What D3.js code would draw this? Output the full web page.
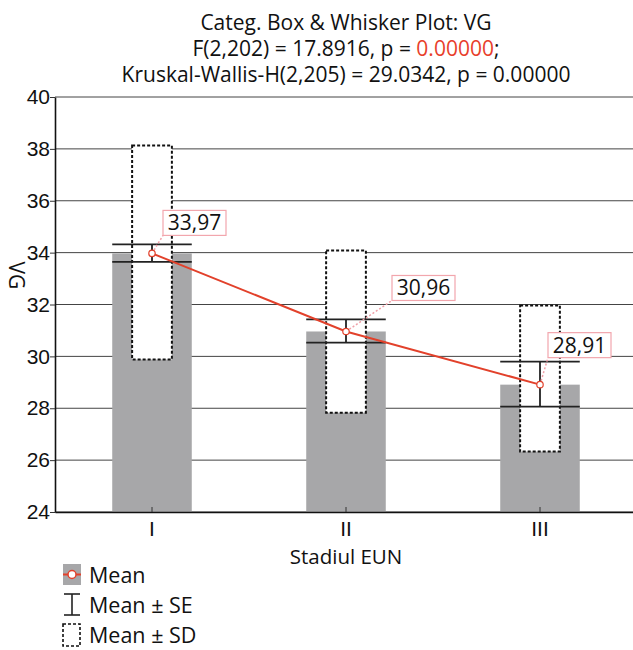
<!DOCTYPE html>
<html>
<head>
<meta charset="utf-8">
<script src="https://cdn.jsdelivr.net/npm/d3@7"></script>
<style>
  body { margin: 0; background: #fff; }
  svg { font-family: 'Open Sans', sans-serif; }
</style>
</head>
<body>
<svg></svg>
<script>
// values
const categories = ['I', 'II', 'III'];
const means = [33.97, 30.96, 28.91];
const seLow = [33.64, 30.53, 28.06];
const seHigh = [34.32, 31.43, 29.80];
const sdLow = [29.88, 27.83, 26.33];
const sdHigh = [38.13, 34.08, 31.96];
const meanLabels = ['33,97', '30,96', '28,91'];
const yTicks = [24, 26, 28, 30, 32, 34, 36, 38, 40];
const titleLines = [
  'Categ. Box & Whisker Plot: VG',
  'F(2,202) = 17.8916, p = ',
  'Kruskal-Wallis-H(2,205) = 29.0342, p = 0.00000'
];

// label placement (layout only): offset of the box's lower-left corner from the mean point
const labelOffset = [[11, -18], [46, -31], [8, -27]];

const size = {w: 633, h: 650};
const plot = {l: 55, r: 637, t: 97, b: 512};
const svg = d3.select('svg').attr('width', size.w).attr('height', size.h);

const x = d3.scaleBand()
  .domain(categories)
  .range([plot.l, plot.r])
  .paddingInner(0.59)
  .paddingOuter(0.295);
const y = d3.scaleLinear().domain([24, 40]).range([plot.b, plot.t]);

const bw = x.bandwidth();
const cx = d => x(d) + bw / 2;

// title
const title = svg.append('g').attr('text-anchor', 'middle')
  .style('font-size', '21px').attr('fill', '#111');
title.append('text').attr('x', 346).attr('y', 30).text(titleLines[0]);
const t2 = title.append('text').attr('x', 346).attr('y', 56);
t2.append('tspan').text(titleLines[1]);
t2.append('tspan').attr('fill', '#e8402a').text('0.00000');
t2.append('tspan').text(';');
title.append('text').attr('x', 346).attr('y', 82).text(titleLines[2]);

// grid lines
svg.append('g').selectAll('line')
  .data(yTicks)
  .join('line')
  .attr('x1', plot.l).attr('x2', plot.r)
  .attr('y1', d => y(d)).attr('y2', d => y(d))
  .attr('stroke', '#444').attr('stroke-width', 1);

// bars (means)
svg.append('g').selectAll('rect')
  .data(categories)
  .join('rect')
  .attr('x', d => x(d))
  .attr('width', bw)
  .attr('y', (d, i) => y(means[i]))
  .attr('height', (d, i) => y(24) - y(means[i]))
  .attr('fill', '#a7a7a9');

// SD boxes
svg.append('g').selectAll('rect')
  .data(categories)
  .join('rect')
  .attr('x', d => cx(d) - bw / 4)
  .attr('width', bw / 2)
  .attr('y', (d, i) => y(sdHigh[i]))
  .attr('height', (d, i) => y(sdLow[i]) - y(sdHigh[i]))
  .attr('fill', '#fff')
  .attr('stroke', '#111')
  .attr('stroke-width', 2)
  .attr('stroke-dasharray', '3,2');

// SE whiskers
const se = svg.append('g').attr('stroke', '#222').attr('stroke-width', 1.8);
categories.forEach((c, i) => {
  se.append('line').attr('x1', cx(c)).attr('x2', cx(c))
    .attr('y1', y(seLow[i])).attr('y2', y(seHigh[i]));
  [seLow[i], seHigh[i]].forEach(v => {
    se.append('line').attr('x1', x(c)).attr('x2', x(c) + bw)
      .attr('y1', y(v)).attr('y2', y(v));
  });
});

// mean line
svg.append('path')
  .datum(categories)
  .attr('d', d3.line().x(d => cx(d)).y((d, i) => y(means[i])))
  .attr('fill', 'none')
  .attr('stroke', '#e2412b')
  .attr('stroke-width', 2);

// labels with dotted leader
const labels = svg.append('g');
categories.forEach((c, i) => {
  const px = cx(c), py = y(means[i]);
  const bx = px + labelOffset[i][0], by = py + labelOffset[i][1];
  labels.append('line')
    .attr('x1', px).attr('y1', py).attr('x2', bx).attr('y2', by)
    .attr('stroke', '#f0a0a8').attr('stroke-width', 1.5)
    .attr('stroke-dasharray', '2,2');
  labels.append('rect')
    .attr('x', bx).attr('y', by - 25).attr('width', 63).attr('height', 25)
    .attr('fill', '#fff').attr('stroke', '#f2a6ad').attr('stroke-width', 1.2);
  labels.append('text')
    .attr('x', bx + 31.5).attr('y', by - 5)
    .attr('text-anchor', 'middle')
    .style('font-size', '21px').attr('fill', '#111')
    .text(meanLabels[i]);
});

// mean markers
svg.append('g').selectAll('circle')
  .data(categories)
  .join('circle')
  .attr('cx', d => cx(d))
  .attr('cy', (d, i) => y(means[i]))
  .attr('r', 3.2)
  .attr('fill', '#fff')
  .attr('stroke', '#e2412b')
  .attr('stroke-width', 1.2);

// axes
const yAxis = svg.append('g')
  .attr('transform', `translate(${plot.l},0)`)
  .call(d3.axisLeft(y).tickValues(yTicks).tickSize(5).tickSizeOuter(0).tickPadding(0));
yAxis.select('.domain').attr('stroke', '#111').attr('stroke-width', 1.6);
yAxis.selectAll('.tick line').attr('stroke', '#333');
yAxis.selectAll('text').style('font-size', '21px').attr('fill', '#111');

const xAxis = svg.append('g')
  .attr('transform', `translate(0,${plot.b})`)
  .call(d3.axisBottom(x).tickSize(-5).tickSizeOuter(0).tickPadding(9));
xAxis.select('.domain').attr('stroke', '#111').attr('stroke-width', 1.6);
xAxis.selectAll('.tick line').attr('stroke', '#333');
xAxis.selectAll('text').style('font-size', '21px').attr('fill', '#111');

svg.append('text')
  .attr('x', 346).attr('y', 564)
  .attr('text-anchor', 'middle')
  .style('font-size', '20.5px').attr('fill', '#111')
  .text('Stadiul EUN');

svg.append('text')
  .attr('transform', `translate(9,${y(33.12)}) rotate(90)`)
  .attr('text-anchor', 'middle')
  .style('font-size', '21px').attr('fill', '#111')
  .text('VG');

// legend
const lg = svg.append('g');
lg.append('rect').attr('x', 63).attr('y', 564).attr('width', 18).attr('height', 21).attr('fill', '#a7a7a9');
lg.append('line').attr('x1', 63).attr('x2', 81).attr('y1', 574.5).attr('y2', 574.5)
  .attr('stroke', '#e2412b').attr('stroke-width', 2);
lg.append('circle').attr('cx', 72).attr('cy', 574.5).attr('r', 4)
  .attr('fill', '#fff').attr('stroke', '#e2412b').attr('stroke-width', 1.5);
lg.append('line').attr('x1', 72).attr('x2', 72).attr('y1', 594).attr('y2', 615).attr('stroke', '#222').attr('stroke-width', 1.6);
lg.append('line').attr('x1', 64).attr('x2', 80).attr('y1', 594).attr('y2', 594).attr('stroke', '#222').attr('stroke-width', 1.6);
lg.append('line').attr('x1', 64).attr('x2', 80).attr('y1', 615).attr('y2', 615).attr('stroke', '#222').attr('stroke-width', 1.6);
lg.append('rect').attr('x', 63).attr('y', 624).attr('width', 17).attr('height', 22)
  .attr('fill', 'none').attr('stroke', '#111').attr('stroke-width', 1.6).attr('stroke-dasharray', '3,2');
['Mean', 'Mean ± SE', 'Mean ± SD'].forEach((t, i) => {
  lg.append('text').attr('x', 89).attr('y', 583 + i * 30)
    .style('font-size', '21.5px').attr('fill', '#111').text(t);
});
</script>
</body>
</html>
